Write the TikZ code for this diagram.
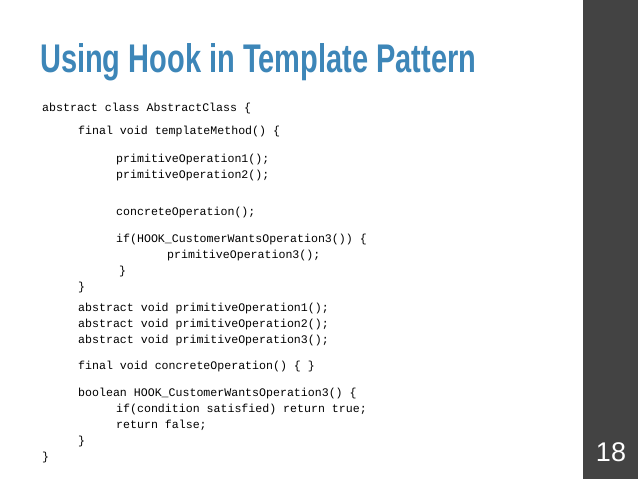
\documentclass[tikz,border=0pt]{standalone}
\usepackage{fontspec}
\setmainfont{Liberation Sans}
\setmonofont{Liberation Mono}
\definecolor{ttl}{HTML}{3D86B8}
\definecolor{bar}{HTML}{434343}
\begin{document}
\begin{tikzpicture}[x=1pt,y=-1pt,
  code/.style={anchor=west,inner sep=0pt,font=\ttfamily\fontsize{11.6}{12}\selectfont,text=black}]
\useasboundingbox (0,0) rectangle (638,479);
\fill[white] (0,0) rectangle (638,479);
\fill[bar] (583,0) rectangle (638,479);
\node[anchor=west,inner sep=0pt,text=ttl,font=\bfseries\fontsize{40}{42}\selectfont,xscale=0.725] (title) at (40,62) {Using Hook in Template Pattern};
\node[code] (l1) at (42,109) {abstract class AbstractClass \{};
\node[code] (l2) at (78,132) {final void templateMethod() \{};
\node[code] (l3) at (116,159) {primitiveOperation1();};
\node[code] (l4) at (116,175) {primitiveOperation2();};
\node[code] (l5) at (116,212) {concreteOperation();};
\node[code] (l6) at (116,239) {if(HOOK\_CustomerWantsOperation3()) \{};
\node[code] (l7) at (167,255) {primitiveOperation3();};
\node[code] (l8) at (119,271) {\}};
\node[code] (l9) at (78,287) {\}};
\node[code] (l10) at (78,308) {abstract void primitiveOperation1();};
\node[code] (l11) at (78,324) {abstract void primitiveOperation2();};
\node[code] (l12) at (78,340) {abstract void primitiveOperation3();};
\node[code] (l13) at (78,366) {final void concreteOperation() \{ \}};
\node[code] (l14) at (78,393) {boolean HOOK\_CustomerWantsOperation3() \{};
\node[code] (l15) at (116,409) {if(condition satisfied) return true;};
\node[code] (l16) at (116,425) {return false;};
\node[code] (l17) at (78,441) {\}};
\node[code] (l18) at (42,457) {\}};
\node[text=white,font=\fontsize{27}{28}\selectfont,inner sep=0pt] (num) at (611,452) {18};
\end{tikzpicture}
\end{document}
